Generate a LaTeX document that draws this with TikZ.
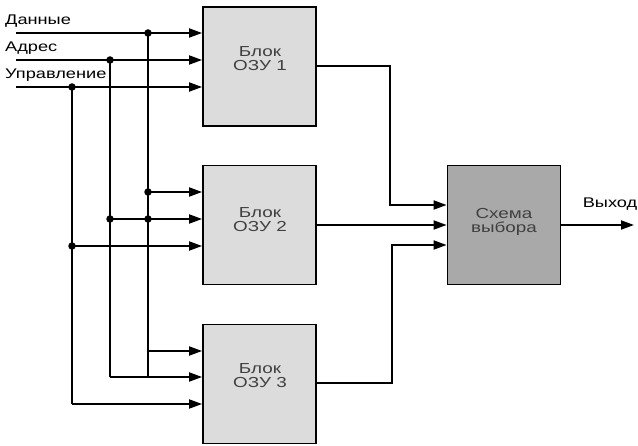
\documentclass[tikz,border=0pt]{standalone}
\usepackage{fontspec}
\setmainfont{Liberation Sans}[FakeStretch=1.3]
\usetikzlibrary{arrows.meta}
\definecolor{ramfill}{HTML}{DCDCDC}
\definecolor{selfill}{HTML}{A9A9A9}
\definecolor{btextc}{HTML}{404040}
\begin{document}
\begin{tikzpicture}[x=1pt,y=-1pt,
  wire/.style={line width=1.8pt, black},
  arr/.style={wire,-{Triangle[length=13pt,width=9pt]}},
  ramblock/.style={draw, line width=1.8pt, fill=ramfill, minimum width=113pt, minimum height=119pt, inner sep=0pt},
  selblock/.style={ramblock, fill=selfill},
  lbl/.style={font=\fontsize{14}{16}\selectfont, anchor=base west, inner sep=0pt},
  btext/.style={font=\fontsize{14.5}{14}\selectfont, text=btextc, align=center, inner sep=0pt},
  jdot/.style={circle, fill=black, inner sep=0pt, minimum size=7.5pt}]
\useasboundingbox (0,0) rectangle (638,446);

% blocks
\node[ramblock] (b1) at (259.5,66.5) {};
\node[ramblock] (b2) at (259.5,225) {};
\node[ramblock] (b3) at (259.5,384) {};
\node[selblock] (sel) at (504,225) {};

\node[btext] (t1) at (260,58.5) {Блок\\ОЗУ 1};
\node[btext] (t2) at (260,220) {Блок\\ОЗУ 2};
\node[btext] (t3) at (260,376) {Блок\\ОЗУ 3};
\node[btext] (ts) at (504,222) {Схема\\выбора};

% labels
\node[lbl] (lD) at (5,25) {Данные};
\node[lbl] (lA) at (5,52) {Адрес};
\node[lbl] (lU) at (5,79) {Управление};
\node[lbl, anchor=base] (lO) at (610,208) {Выход};

% input start points
\coordinate (sD) at (16,33);
\coordinate (sA) at (16,60);
\coordinate (sU) at (16,87);
% bus junctions
\coordinate (jD1) at (148,33);
\coordinate (jA1) at (110,60);
\coordinate (jU1) at (72,87);
\coordinate (jD2) at (148,192);
\coordinate (jA2) at (110,219);
\coordinate (jDA2) at (148,219);
\coordinate (jU2) at (72,246);
\coordinate (jD3) at (148,351);
\coordinate (jA3) at (110,377);
\coordinate (jDA3) at (148,377);
\coordinate (jU3) at (72,404);

% inputs to block 1
\draw[arr] (sD) -- (b1.west |- sD);
\draw[arr] (sA) -- (b1.west |- sA);
\draw[arr] (sU) -- (b1.west |- sU);
% vertical buses
\draw[wire] (jD1) -- (jDA3);
\draw[wire] (jA1) -- (jA3);
\draw[wire] (jU1) -- (jU3);
% inputs to block 2
\draw[arr] (jD2) -- (b2.west |- jD2);
\draw[arr] (jA2) -- (b2.west |- jA2);
\draw[arr] (jU2) -- (b2.west |- jU2);
% inputs to block 3
\draw[arr] (jD3) -- (b3.west |- jD3);
\draw[arr] (jA3) -- (b3.west |- jA3);
\draw[arr] (jU3) -- (b3.west |- jU3);
% dots
\foreach \p in {jD1,jA1,jU1,jD2,jA2,jDA2,jU2} \node[jdot] at (\p) {};

% outputs
\coordinate (o1) at (316,66);
\coordinate (o1b) at (390,66);
\coordinate (o1c) at (390,205);
\coordinate (o3) at (316,383);
\coordinate (o3b) at (392,383);
\coordinate (o3c) at (392,245);
\draw[arr] (b1.east |- o1) -- (o1b) -- (o1c) -- (sel.west |- o1c);
\draw[arr] (b2.east |- sel.west) -- (sel.west);
\draw[arr] (b3.east |- o3) -- (o3b) -- (o3c) -- (sel.west |- o3c);
\coordinate (oend) at (634,225);
\draw[arr] (sel.east) -- (oend);
\end{tikzpicture}
\end{document}
